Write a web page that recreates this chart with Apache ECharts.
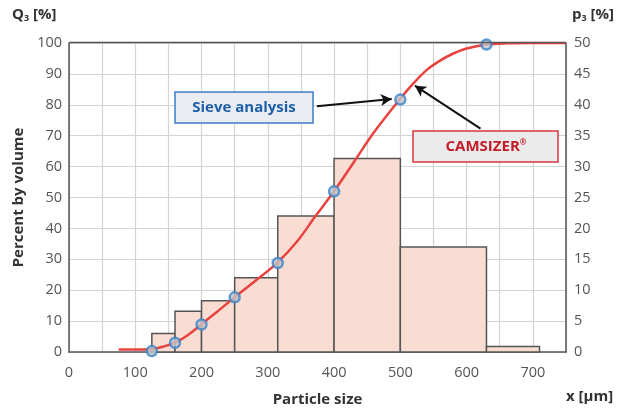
<!DOCTYPE html>
<html>
<head>
<meta charset="utf-8">
<script src="https://cdn.jsdelivr.net/npm/echarts@6/dist/echarts.min.js"></script>
<style>
html,body{margin:0;padding:0;background:#fff;}
#c{width:630px;height:410px;}
</style>
</head>
<body>
<div id="c"></div>
<script>
// Histogram classes (sieve sizes, µm) and density p3 [%]
var binLower = [125, 160, 200, 250, 315, 400, 500, 630];
var binUpper = [160, 200, 250, 315, 400, 500, 630, 710];
var p3Values = [3.0, 6.6, 8.3, 12.0, 22.0, 31.3, 17.0, 0.9];

// Sieve analysis cumulative Q3 points
var sieveX = [125, 160, 200, 250, 315, 400, 500, 630];
var sieveQ3 = [0.3, 3.0, 8.9, 17.7, 28.8, 52.0, 81.7, 99.5];

// CAMSIZER cumulative Q3 curve
var camX = [75, 100, 125, 140, 160, 180, 200, 225, 250, 280, 315, 345, 372, 400, 430, 460, 500, 520, 540, 560, 580, 600, 630, 660, 700, 750];
var camQ3 = [0.8, 0.8, 1.0, 1.6, 3.0, 5.6, 9.0, 13.3, 17.7, 22.8, 29.0, 36.0, 44.0, 52.0, 61.5, 71.0, 82.0, 87.0, 91.3, 94.3, 96.6, 98.2, 99.5, 99.9, 100, 100];

var FONT = 'Open Sans';
var chart = echarts.init(document.getElementById('c'), null, {renderer: 'canvas'});

var histData = binLower.map(function (v, i) { return [v, binUpper[i], p3Values[i]]; });
var sieveData = sieveX.map(function (v, i) { return [v, sieveQ3[i]]; });
var camData = camX.map(function (v, i) { return [v, camQ3[i]]; });

chart.setOption({
  animation: false,
  backgroundColor: '#fff',
  grid: {left: 69, right: 64, top: 43, bottom: 58, containLabel: false, outerBoundsMode: 'none'},
  xAxis: {
    type: 'value', min: 0, max: 750, interval: 50,
    name: 'Particle size', nameLocation: 'middle', nameGap: 40,
    nameTextStyle: {fontFamily: FONT, fontWeight: 'bold', fontSize: 15, color: '#333'},
    axisLine: {show: true, lineStyle: {color: '#555', width: 1.5}},
    axisTick: {show: false},
    axisLabel: {fontFamily: FONT, fontSize: 14.5, color: '#555', margin: 13,
      formatter: function (v) { return (v % 100 === 0 && v <= 700) ? String(v) : ''; }},
    splitLine: {show: true, lineStyle: {color: '#d4d4d4', width: 1.2}}
  },
  yAxis: [{
    type: 'value', min: 0, max: 100, interval: 10,
    name: 'Percent by volume', nameLocation: 'middle', nameGap: 37,
    nameTextStyle: {fontFamily: FONT, fontWeight: 'bold', fontSize: 15, color: '#333'},
    axisLine: {show: true, lineStyle: {color: '#555', width: 1.5}},
    axisTick: {show: false},
    axisLabel: {fontFamily: FONT, fontSize: 14.5, color: '#555', margin: 7},
    splitLine: {show: true, lineStyle: {color: '#d4d4d4', width: 1.2}}
  }, {
    type: 'value', min: 0, max: 50, interval: 5, position: 'right',
    axisLine: {show: true, lineStyle: {color: '#555', width: 1.5}},
    axisTick: {show: false},
    axisLabel: {fontFamily: FONT, fontSize: 14.5, color: '#555', margin: 8},
    splitLine: {show: false}
  }],
  graphic: [
    {type: 'text', left: 12, top: 7, z: 20, style: {
      text: 'Q{s|3} [%]', fontFamily: FONT, fontWeight: 'bold', fontSize: 15, fill: '#333',
      rich: {s: {fontSize: 9, fontWeight: 'bold', fontFamily: FONT, fill: '#333', padding: [8, 0, 0, 0]}}}},
    {type: 'text', left: 572, top: 7, z: 20, style: {
      text: 'p{s|3} [%]', fontFamily: FONT, fontWeight: 'bold', fontSize: 15, fill: '#333',
      rich: {s: {fontSize: 9, fontWeight: 'bold', fontFamily: FONT, fill: '#333', padding: [8, 0, 0, 0]}}}},
    {type: 'text', left: 566, top: 389, z: 20, style: {
      text: 'x [µm]', fontFamily: FONT, fontWeight: 'bold', fontSize: 15, fill: '#333'}},
    {type: 'line', z: 10, shape: {x1: 69, y1: 42.5, x2: 566, y2: 42.5}, style: {stroke: '#555', lineWidth: 1.5}},
    {type: 'rect', z: 20, shape: {x: 175, y: 92, width: 138, height: 31}, style: {fill: '#e9edf1', stroke: '#3c7dc4', lineWidth: 1.5}},
    {type: 'text', z: 21, x: 244, y: 107.5, style: {text: 'Sieve analysis', fontFamily: FONT, fontWeight: 'bold', fontSize: 15, fill: '#1f5fa8', align: 'center', verticalAlign: 'middle'}},
    {type: 'rect', z: 20, shape: {x: 413, y: 131, width: 145, height: 31}, style: {fill: '#ebebeb', stroke: '#d9343c', lineWidth: 1.5}},
    {type: 'text', z: 21, x: 486, y: 146.5, style: {text: 'CAMSIZER{r|®}', fontFamily: FONT, fontWeight: 'bold', fontSize: 15, fill: '#c21d28', align: 'center', verticalAlign: 'middle',
      rich: {r: {fontSize: 8, fontWeight: 'bold', fontFamily: FONT, fill: '#c21d28', padding: [0, 0, 8, 0]}}}}
  ],
  series: [{
    type: 'custom', yAxisIndex: 1, z: 2,
    data: histData,
    encode: {x: [0, 1], y: 2},
    renderItem: function (params, api) {
      var p0 = api.coord([api.value(0), api.value(2)]);
      var p1 = api.coord([api.value(1), 0]);
      return {type: 'rect', shape: {x: p0[0], y: p0[1], width: p1[0] - p0[0], height: p1[1] - p0[1]},
        style: {fill: '#f9ddd3', stroke: '#555', lineWidth: 1.5}};
    }
  }, {
    type: 'line', yAxisIndex: 0, z: 5,
    data: camData, smooth: 0.35, showSymbol: false,
    lineStyle: {color: '#e8433f', width: 2.5},
    markLine: {
      silent: true, symbol: ['none', 'arrow'], symbolSize: [9, 11], label: {show: false},
      lineStyle: {color: '#111', width: 2, type: 'solid'},
      data: [
        [{coord: [374, 79.5]}, {coord: [487, 81.9]}],
        [{coord: [621, 72.3]}, {coord: [522, 86.2]}]
      ]
    }
  }, {
    type: 'scatter', yAxisIndex: 0, z: 6,
    data: sieveData, symbol: 'circle', symbolSize: 10,
    itemStyle: {color: '#c3c6ca', borderColor: '#3a85c9', borderWidth: 2.5}
  }]
});
</script>
</body>
</html>
